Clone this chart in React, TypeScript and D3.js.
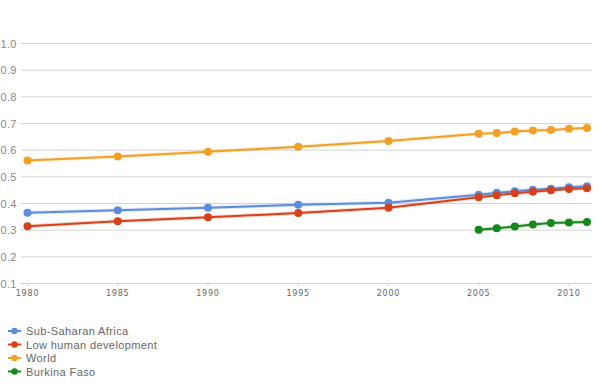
import React from "react";
import * as d3 from "d3";

const years = [1980, 1985, 1990, 1995, 2000, 2005, 2006, 2007, 2008, 2009, 2010, 2011];
const bfYears = [2005, 2006, 2007, 2008, 2009, 2010, 2011];

const subSaharan = [0.365, 0.375, 0.384, 0.395, 0.403, 0.433, 0.44, 0.446, 0.452, 0.455, 0.461, 0.465];
const lowHuman = [0.315, 0.333, 0.348, 0.364, 0.384, 0.423, 0.431, 0.438, 0.444, 0.45, 0.454, 0.457];
const world = [0.561, 0.576, 0.594, 0.613, 0.634, 0.662, 0.664, 0.67, 0.674, 0.676, 0.68, 0.683];
const burkina = [0.302, 0.307, 0.314, 0.321, 0.327, 0.329, 0.331];

const yTicks = [0.1, 0.2, 0.3, 0.4, 0.5, 0.6, 0.7, 0.8, 0.9, 1.0];
const xTicks = [1980, 1985, 1990, 1995, 2000, 2005, 2010];

const series = [
  { name: "Sub-Saharan Africa", color: "#5b8ddb", xs: years, ys: subSaharan },
  { name: "Low human development", color: "#d6401b", xs: years, ys: lowHuman },
  { name: "World", color: "#f2a024", xs: years, ys: world },
  { name: "Burkina Faso", color: "#16871a", xs: bfYears, ys: burkina },
];

const W = 600;
const H = 386;

const App = () => {
  const x = d3.scaleLinear().domain([1980, 2011]).range([27.5, 587]);
  const y = d3.scaleLinear().domain([0.1, 1.0]).range([283.5, 43.5]);

  const line = d3
    .line<[number, number]>()
    .x((d) => x(d[0]))
    .y((d) => y(d[1]));

  return (
    <svg
      width={W}
      height={H}
      style={{ position: "absolute", left: 0, top: 0 }}
      fontFamily="'Liberation Sans', Arial, sans-serif"
    >
      <rect width={W} height={H} fill="#fff" />
      {yTicks.map((t) => (
        <g key={t}>
          {t > 0.15 && (
            <line x1={21} x2={592} y1={y(t)} y2={y(t)} stroke="#d4d4d4" strokeWidth={1} />
          )}
          <text x={16.5} y={y(t) + 4} fontSize={11} fill="#888" textAnchor="end" letterSpacing={0.2}>
            {t.toFixed(1)}
          </text>
        </g>
      ))}
      <line x1={21} x2={592} y1={y(0.1)} y2={y(0.1)} stroke="#cdd5dc" strokeWidth={1} />
      {xTicks.map((t) => (
        <g key={t}>
          <line x1={x(t)} x2={x(t)} y1={y(0.1)} y2={y(0.1) + 3} stroke="#cdd5dc" />
          <text
            x={x(t)}
            y={y(0.1) + 12}
            fontSize={8}
            fill="#666"
            textAnchor="middle"
            letterSpacing={0.8}
            fontFamily="'DejaVu Sans', sans-serif"
          >
            {t}
          </text>
        </g>
      ))}
      {series.map((s) => {
        const pts = s.xs.map((v, i) => [v, s.ys[i]] as [number, number]);
        return (
          <g key={s.name}>
            <path d={line(pts) || ""} fill="none" stroke={s.color} strokeOpacity={0.2} strokeWidth={4} />
            <path d={line(pts) || ""} fill="none" stroke={s.color} strokeWidth={2} />
            {pts.map((p, i) => (
              <circle key={i} cx={x(p[0])} cy={y(p[1])} r={4} fill={s.color} />
            ))}
          </g>
        );
      })}
      {series.map((s, i) => {
        const ly = 331 + i * 13.5;
        return (
          <g key={s.name}>
            <line x1={8} x2={21} y1={ly} y2={ly} stroke={s.color} strokeWidth={2} />
            <circle cx={14.5} cy={ly} r={3.2} fill={s.color} />
            <text x={26} y={ly + 4} fontSize={11} fill="#666" letterSpacing={0.4}>
              {s.name}
            </text>
          </g>
        );
      })}
    </svg>
  );
};

export default App;
